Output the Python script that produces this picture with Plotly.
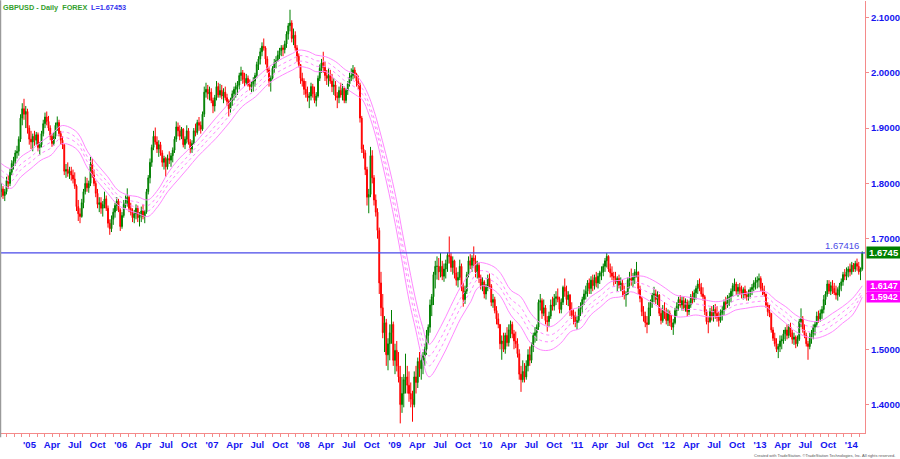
import pandas as pd
import plotly.graph_objects as go

# ---------------- data (weekly bars) ----------------
symbol_title = "GBPUSD - Daily\u00a0\u00a0FOREX"
first_week = "2004-09-10"
first_open = 1.785

highs = [
    1.800,1.795,1.790,1.812,1.815,1.826,1.842,1.848,1.860,1.868,
    1.885,1.925,1.945,1.953,1.940,1.935,1.905,1.895,1.890,1.895,
    1.893,1.892,1.875,1.895,1.915,1.928,1.930,1.922,1.905,1.890,
    1.892,1.910,1.921,1.915,1.895,1.885,1.870,1.835,1.838,1.830,
    1.830,1.825,1.820,1.798,1.770,1.755,1.772,1.790,1.812,1.810,
    1.805,1.848,1.845,1.825,1.805,1.790,1.775,1.775,1.768,1.785,
    1.778,1.760,1.735,1.742,1.755,1.765,1.775,1.772,1.755,1.748,
    1.770,1.778,1.791,1.778,1.765,1.755,1.752,1.762,1.760,1.748,
    1.758,1.762,1.752,1.790,1.815,1.845,1.870,1.895,1.901,1.885,
    1.878,1.875,1.860,1.850,1.848,1.852,1.858,1.855,1.865,1.885,
    1.912,1.910,1.905,1.902,1.900,1.885,1.905,1.900,1.880,1.878,
    1.900,1.908,1.915,1.920,1.912,1.930,1.975,1.982,1.978,1.975,
    1.972,1.955,1.960,1.985,1.982,1.980,1.978,1.972,1.975,1.962,
    1.952,1.955,1.968,1.975,1.982,1.985,2.000,2.011,2.005,2.000,
    1.998,1.995,1.988,1.985,1.992,2.000,2.020,2.030,2.045,2.055,
    2.062,2.048,2.030,2.010,1.995,2.012,2.025,2.030,2.040,2.045,
    2.050,2.050,2.058,2.075,2.090,2.114,2.095,2.080,2.075,2.050,
    2.035,2.015,2.000,1.990,1.985,1.975,1.965,1.982,1.980,1.975,
    1.965,1.995,2.015,2.025,2.038,2.020,2.005,2.008,2.005,1.998,
    1.990,1.985,1.965,1.975,1.982,1.980,1.975,1.972,1.985,2.000,
    2.008,2.014,2.010,2.000,1.995,1.982,1.922,1.870,1.860,1.830,
    1.790,1.866,1.860,1.815,1.780,1.755,1.720,1.640,1.600,1.560,
    1.555,1.520,1.545,1.571,1.550,1.510,1.515,1.495,1.470,1.450,
    1.455,1.492,1.470,1.460,1.440,1.425,1.460,1.470,1.485,1.495,
    1.490,1.495,1.510,1.535,1.545,1.590,1.600,1.640,1.660,1.668,
    1.665,1.674,1.660,1.655,1.662,1.675,1.704,1.675,1.668,1.662,
    1.648,1.640,1.662,1.655,1.620,1.615,1.640,1.668,1.672,1.670,
    1.686,1.670,1.660,1.656,1.635,1.630,1.625,1.618,1.635,1.637,
    1.618,1.600,1.595,1.578,1.565,1.545,1.525,1.530,1.530,1.540,
    1.545,1.552,1.550,1.535,1.532,1.520,1.500,1.470,1.480,1.475,
    1.480,1.500,1.505,1.512,1.530,1.540,1.545,1.590,1.600,1.592,
    1.590,1.580,1.560,1.568,1.590,1.595,1.600,1.605,1.610,1.595,
    1.592,1.615,1.628,1.615,1.605,1.600,1.585,1.572,1.568,1.560,
    1.578,1.585,1.595,1.608,1.615,1.625,1.628,1.632,1.635,1.635,
    1.640,1.638,1.642,1.650,1.655,1.665,1.674,1.670,1.655,1.650,
    1.640,1.640,1.632,1.635,1.630,1.625,1.615,1.605,1.630,1.640,
    1.646,1.638,1.645,1.658,1.640,1.615,1.595,1.578,1.568,1.560,
    1.585,1.590,1.602,1.613,1.608,1.605,1.600,1.575,1.580,1.585,
    1.575,1.572,1.570,1.562,1.555,1.575,1.585,1.595,1.598,1.595,
    1.595,1.592,1.590,1.588,1.600,1.605,1.608,1.615,1.625,1.628,
    1.620,1.612,1.598,1.572,1.558,1.575,1.578,1.580,1.582,1.578,
    1.568,1.572,1.578,1.590,1.595,1.598,1.602,1.610,1.620,1.628,
    1.622,1.618,1.620,1.615,1.612,1.615,1.605,1.608,1.612,1.618,
    1.625,1.630,1.632,1.637,1.632,1.620,1.615,1.600,1.585,1.580,
    1.565,1.540,1.530,1.520,1.510,1.525,1.525,1.535,1.540,1.545,
    1.545,1.548,1.535,1.530,1.525,1.525,1.555,1.574,1.560,1.545,
    1.530,1.515,1.530,1.535,1.545,1.550,1.568,1.570,1.572,1.578,
    1.598,1.605,1.625,1.625,1.622,1.625,1.620,1.615,1.612,1.620,
    1.628,1.640,1.645,1.648,1.650,1.655,1.658,1.656,1.660,1.664,
    1.658,1.648,1.677,
]

lows = [
    1.775,1.772,1.768,1.780,1.790,1.795,1.815,1.825,1.832,1.845,
    1.850,1.875,1.905,1.915,1.900,1.890,1.870,1.862,1.858,1.868,
    1.870,1.858,1.851,1.865,1.885,1.900,1.905,1.895,1.878,1.866,
    1.868,1.880,1.895,1.885,1.870,1.862,1.815,1.810,1.812,1.808,
    1.805,1.800,1.790,1.750,1.732,1.728,1.738,1.755,1.780,1.785,
    1.783,1.795,1.810,1.795,1.775,1.755,1.748,1.745,1.740,1.755,
    1.750,1.720,1.707,1.712,1.725,1.738,1.750,1.748,1.714,1.718,
    1.738,1.755,1.758,1.748,1.742,1.730,1.728,1.735,1.730,1.722,
    1.730,1.735,1.728,1.745,1.780,1.800,1.830,1.860,1.870,1.855,
    1.848,1.850,1.830,1.825,1.812,1.825,1.835,1.830,1.838,1.855,
    1.875,1.885,1.878,1.880,1.865,1.862,1.872,1.870,1.855,1.855,
    1.870,1.885,1.888,1.895,1.890,1.895,1.920,1.955,1.952,1.950,
    1.945,1.927,1.930,1.950,1.955,1.955,1.952,1.945,1.950,1.940,
    1.921,1.928,1.940,1.950,1.955,1.960,1.970,1.985,1.980,1.975,
    1.978,1.975,1.968,1.965,1.966,1.975,1.990,2.005,2.015,2.030,
    2.040,2.015,2.000,1.975,1.966,1.988,2.000,2.008,2.020,2.025,
    2.030,2.030,2.035,2.045,2.060,2.075,2.055,2.050,2.040,2.020,
    2.010,1.980,1.975,1.960,1.955,1.948,1.936,1.950,1.955,1.945,
    1.939,1.955,1.985,2.000,2.000,1.985,1.978,1.975,1.980,1.965,
    1.960,1.950,1.936,1.945,1.955,1.950,1.945,1.945,1.960,1.975,
    1.985,1.988,1.990,1.975,1.970,1.910,1.855,1.845,1.815,1.760,
    1.746,1.775,1.800,1.760,1.740,1.700,1.600,1.560,1.520,1.495,
    1.470,1.462,1.480,1.510,1.470,1.455,1.460,1.440,1.366,1.385,
    1.395,1.420,1.420,1.405,1.395,1.369,1.395,1.420,1.430,1.450,
    1.445,1.455,1.470,1.490,1.510,1.530,1.560,1.580,1.610,1.626,
    1.625,1.630,1.625,1.622,1.628,1.640,1.655,1.640,1.635,1.628,
    1.615,1.612,1.625,1.605,1.577,1.582,1.600,1.630,1.645,1.640,
    1.650,1.630,1.628,1.620,1.608,1.605,1.592,1.590,1.605,1.610,
    1.578,1.575,1.565,1.545,1.538,1.500,1.481,1.495,1.492,1.505,
    1.505,1.520,1.520,1.500,1.502,1.485,1.445,1.423,1.440,1.440,
    1.445,1.460,1.470,1.475,1.495,1.512,1.515,1.535,1.570,1.555,
    1.560,1.545,1.532,1.540,1.555,1.570,1.570,1.580,1.585,1.565,
    1.565,1.580,1.595,1.580,1.578,1.560,1.555,1.545,1.540,1.535,
    1.548,1.560,1.565,1.580,1.590,1.595,1.600,1.600,1.605,1.608,
    1.612,1.610,1.618,1.625,1.632,1.640,1.648,1.640,1.630,1.625,
    1.615,1.618,1.605,1.610,1.605,1.595,1.590,1.577,1.598,1.610,
    1.615,1.612,1.618,1.630,1.600,1.585,1.560,1.550,1.540,1.529,
    1.545,1.560,1.575,1.585,1.582,1.580,1.560,1.545,1.548,1.555,
    1.545,1.542,1.542,1.535,1.526,1.545,1.560,1.570,1.575,1.570,
    1.570,1.568,1.560,1.562,1.575,1.582,1.585,1.590,1.600,1.605,
    1.595,1.588,1.562,1.545,1.529,1.548,1.552,1.550,1.555,1.550,
    1.541,1.548,1.552,1.562,1.572,1.575,1.578,1.585,1.595,1.605,
    1.598,1.595,1.598,1.592,1.590,1.592,1.588,1.588,1.592,1.598,
    1.605,1.608,1.610,1.612,1.605,1.598,1.595,1.575,1.560,1.558,
    1.530,1.515,1.505,1.495,1.484,1.495,1.500,1.510,1.515,1.518,
    1.520,1.522,1.510,1.508,1.502,1.505,1.515,1.540,1.530,1.520,
    1.505,1.481,1.500,1.510,1.518,1.525,1.540,1.548,1.550,1.555,
    1.565,1.580,1.595,1.600,1.598,1.600,1.598,1.590,1.588,1.595,
    1.605,1.615,1.625,1.625,1.630,1.632,1.635,1.640,1.640,1.642,
    1.635,1.625,1.642,
]

closes = [
    1.790,1.778,1.785,1.805,1.800,1.820,1.836,1.840,1.855,1.858,
    1.880,1.918,1.935,1.925,1.930,1.900,1.880,1.875,1.885,1.878,
    1.888,1.865,1.870,1.890,1.908,1.920,1.912,1.900,1.885,1.872,
    1.885,1.905,1.910,1.890,1.878,1.870,1.822,1.825,1.818,1.822,
    1.815,1.808,1.795,1.758,1.745,1.740,1.765,1.785,1.800,1.792,
    1.800,1.835,1.815,1.800,1.782,1.762,1.765,1.755,1.762,1.772,
    1.755,1.728,1.718,1.735,1.748,1.760,1.768,1.752,1.722,1.742,
    1.762,1.765,1.775,1.755,1.748,1.738,1.745,1.755,1.738,1.742,
    1.750,1.740,1.748,1.785,1.810,1.838,1.865,1.885,1.875,1.862,
    1.870,1.855,1.838,1.845,1.830,1.845,1.842,1.850,1.860,1.880,
    1.902,1.895,1.885,1.898,1.870,1.880,1.895,1.875,1.862,1.872,
    1.895,1.892,1.910,1.905,1.898,1.925,1.965,1.970,1.962,1.965,
    1.950,1.940,1.955,1.975,1.960,1.968,1.958,1.965,1.955,1.948,
    1.935,1.950,1.962,1.970,1.975,1.978,1.995,2.000,1.988,1.982,
    1.990,1.978,1.975,1.980,1.985,1.995,2.015,2.025,2.038,2.048,
    2.045,2.025,2.005,1.985,1.990,2.008,2.018,2.022,2.032,2.040,
    2.045,2.042,2.052,2.070,2.085,2.090,2.062,2.068,2.045,2.030,
    2.015,1.990,1.985,1.970,1.962,1.955,1.958,1.975,1.962,1.950,
    1.958,1.990,2.008,2.018,2.010,1.995,1.990,1.995,1.985,1.975,
    1.978,1.958,1.955,1.968,1.960,1.972,1.950,1.968,1.980,1.992,
    1.995,2.005,1.998,1.985,1.978,1.918,1.862,1.855,1.825,1.775,
    1.780,1.850,1.810,1.770,1.748,1.715,1.620,1.575,1.530,1.548,
    1.490,1.510,1.530,1.545,1.480,1.498,1.470,1.450,1.400,1.420,
    1.445,1.450,1.435,1.420,1.410,1.400,1.450,1.440,1.478,1.465,
    1.480,1.488,1.500,1.525,1.540,1.580,1.595,1.635,1.650,1.650,
    1.640,1.650,1.632,1.645,1.655,1.670,1.668,1.648,1.660,1.638,
    1.625,1.630,1.650,1.612,1.590,1.605,1.635,1.660,1.652,1.665,
    1.660,1.640,1.652,1.630,1.615,1.622,1.600,1.612,1.628,1.615,
    1.585,1.590,1.570,1.555,1.545,1.510,1.515,1.500,1.525,1.512,
    1.535,1.545,1.528,1.515,1.510,1.492,1.455,1.445,1.460,1.450,
    1.470,1.490,1.480,1.505,1.525,1.530,1.540,1.585,1.588,1.565,
    1.575,1.552,1.550,1.560,1.580,1.578,1.592,1.595,1.590,1.572,
    1.585,1.612,1.605,1.590,1.598,1.570,1.562,1.560,1.548,1.552,
    1.572,1.578,1.590,1.600,1.605,1.620,1.610,1.625,1.615,1.630,
    1.620,1.632,1.638,1.640,1.650,1.660,1.668,1.645,1.638,1.632,
    1.630,1.622,1.628,1.615,1.620,1.605,1.598,1.600,1.625,1.628,
    1.625,1.630,1.640,1.640,1.610,1.592,1.568,1.560,1.548,1.545,
    1.575,1.585,1.598,1.600,1.590,1.598,1.565,1.552,1.570,1.565,
    1.552,1.565,1.548,1.540,1.548,1.570,1.578,1.590,1.580,1.588,
    1.575,1.585,1.568,1.580,1.595,1.590,1.602,1.610,1.618,1.612,
    1.600,1.595,1.568,1.550,1.550,1.568,1.560,1.572,1.565,1.558,
    1.552,1.565,1.570,1.585,1.580,1.592,1.595,1.605,1.615,1.618,
    1.605,1.612,1.605,1.600,1.608,1.598,1.595,1.602,1.608,1.612,
    1.620,1.622,1.625,1.628,1.610,1.605,1.600,1.580,1.568,1.565,
    1.535,1.520,1.510,1.500,1.505,1.515,1.518,1.528,1.535,1.525,
    1.540,1.530,1.518,1.522,1.510,1.518,1.550,1.555,1.535,1.525,
    1.510,1.505,1.522,1.528,1.540,1.545,1.560,1.555,1.565,1.572,
    1.590,1.600,1.618,1.605,1.615,1.610,1.602,1.598,1.608,1.615,
    1.622,1.635,1.632,1.640,1.645,1.640,1.652,1.645,1.655,1.650,
    1.640,1.645,1.67453,
]

hline_level = 1.67416

# moving-average channel lines
band_dates = [
    "2004-09-10","2004-10-19","2004-11-28","2005-01-07","2005-02-16","2005-03-28","2005-05-07","2005-06-02",
    "2005-07-13","2005-08-22","2005-10-01","2005-11-10","2005-12-20","2006-01-28","2006-03-09","2006-04-19",
    "2006-05-29","2006-07-08","2006-08-17","2006-09-26","2006-11-04","2006-12-14","2007-01-16","2007-03-10",
    "2007-05-02","2007-06-25","2007-08-17","2007-10-10","2007-11-19","2007-12-15","2008-01-24","2008-02-20",
    "2008-03-31","2008-05-10","2008-06-19","2008-07-29","2008-08-25","2008-09-20","2008-10-17","2008-11-12",
    "2008-12-09","2009-01-05","2009-02-01","2009-02-27","2009-03-26","2009-04-22","2009-05-18","2009-07-04",
    "2009-08-12","2009-09-22","2009-11-01","2009-11-27","2009-12-24","2010-02-02","2010-03-01","2010-04-10",
    "2010-05-20","2010-06-29","2010-08-08","2010-09-17","2010-10-27","2010-12-06","2011-01-15","2011-02-24",
    "2011-04-05","2011-05-15","2011-06-24","2011-08-03","2011-09-22","2011-11-11","2011-12-21","2012-01-30",
    "2012-03-10","2012-04-19","2012-05-29","2012-07-08","2012-08-17","2012-09-26","2012-11-05","2012-12-15",
    "2013-01-24","2013-03-05","2013-04-14","2013-05-24","2013-07-03","2013-08-12","2013-09-08","2013-10-18",
    "2013-11-27","2014-01-06","2014-02-14",
]
band_upper = [
    1.836,1.827,1.848,1.860,1.875,1.888,1.904,1.903,1.891,1.857,1.833,1.812,1.788,1.779,1.776,1.770,
    1.788,1.818,1.842,1.860,1.878,1.900,1.918,1.945,1.972,1.990,2.011,2.026,2.035,2.041,2.038,2.032,
    2.029,2.020,2.005,1.996,1.981,1.957,1.921,1.878,1.830,1.776,1.710,1.649,1.589,1.541,1.509,1.541,
    1.577,1.613,1.640,1.656,1.656,1.649,1.637,1.607,1.595,1.565,1.547,1.541,1.553,1.571,1.577,1.595,
    1.607,1.622,1.625,1.631,1.632,1.622,1.610,1.598,1.595,1.592,1.589,1.586,1.589,1.598,1.601,1.604,
    1.604,1.589,1.577,1.562,1.553,1.550,1.553,1.565,1.577,1.592,1.6147,
]
band_inner_hi = [
    1.824,1.814,1.835,1.848,1.864,1.875,1.892,1.892,1.880,1.847,1.823,1.802,1.779,1.770,1.766,1.760,
    1.778,1.806,1.829,1.849,1.868,1.888,1.905,1.932,1.960,1.978,2.001,2.016,2.025,2.031,2.028,2.022,
    2.020,2.008,1.993,1.983,1.971,1.945,1.908,1.863,1.813,1.757,1.691,1.628,1.570,1.520,1.488,1.520,
    1.556,1.593,1.621,1.640,1.642,1.634,1.622,1.591,1.576,1.546,1.530,1.526,1.538,1.557,1.563,1.583,
    1.597,1.612,1.615,1.622,1.618,1.607,1.595,1.584,1.582,1.582,1.579,1.577,1.580,1.589,1.592,1.595,
    1.595,1.580,1.567,1.552,1.543,1.540,1.543,1.553,1.567,1.582,1.607,
]
band_inner_lo = [
    1.813,1.804,1.825,1.839,1.854,1.864,1.883,1.882,1.871,1.838,1.814,1.793,1.770,1.761,1.757,1.750,
    1.768,1.797,1.819,1.839,1.858,1.878,1.894,1.922,1.951,1.969,1.991,2.006,2.015,2.021,2.018,2.012,
    2.011,1.999,1.984,1.973,1.961,1.936,1.898,1.851,1.799,1.741,1.674,1.610,1.554,1.502,1.470,1.502,
    1.538,1.576,1.605,1.626,1.629,1.622,1.610,1.578,1.560,1.530,1.516,1.514,1.526,1.546,1.552,1.574,
    1.587,1.602,1.605,1.613,1.607,1.595,1.583,1.573,1.572,1.572,1.569,1.568,1.571,1.580,1.583,1.586,
    1.586,1.571,1.557,1.542,1.533,1.530,1.533,1.544,1.557,1.572,1.601,
]
band_lower = [
    1.801,1.791,1.812,1.827,1.842,1.851,1.871,1.871,1.860,1.827,1.803,1.782,1.761,1.752,1.746,1.740,
    1.758,1.785,1.806,1.827,1.848,1.866,1.881,1.909,1.939,1.957,1.981,1.996,2.005,2.011,2.008,2.002,
    2.002,1.987,1.972,1.960,1.951,1.924,1.885,1.836,1.782,1.722,1.655,1.589,1.535,1.481,1.450,1.481,
    1.517,1.556,1.586,1.610,1.615,1.607,1.595,1.562,1.541,1.511,1.499,1.499,1.511,1.532,1.538,1.562,
    1.577,1.592,1.595,1.604,1.594,1.580,1.568,1.559,1.559,1.562,1.559,1.559,1.562,1.571,1.574,1.577,
    1.577,1.562,1.547,1.532,1.523,1.520,1.523,1.532,1.547,1.562,1.5942,
]

tick_labels = [
    "'05","Apr","Jul","Oct","'06","Apr","Jul","Oct","'07","Apr","Jul","Oct",
    "'08","Apr","Jul","Oct","'09","Apr","Jul","Oct","'10","Apr","Jul","Oct",
    "'11","Apr","Jul","Oct","'12","Apr","Jul","Oct","'13","Apr","Jul","Oct","'14",
]
y_ticks = [1.4, 1.5, 1.6, 1.7, 1.8, 1.9, 2.0, 2.1]
# the 1.6000 label is hidden behind the magenta value boxes in the original
y_tick_labels = ["1.4000", "1.5000", "", "1.7000", "1.8000", "1.9000", "2.0000", "2.1000"]

# ---------------- build ----------------
dates = pd.date_range(first_week, periods=len(closes), freq="7D")
opens = [first_open] + closes[:-1]
tick_dates = pd.date_range("2005-01-01", periods=len(tick_labels), freq="QS")

FONT = "Arial, 'Liberation Sans', Helvetica, sans-serif"
PINK = "#f48a8a"
BLUE = "#1414f0"
MAG = "#ff88ff"

fig = go.Figure()
for ys, dash in ((band_upper, "solid"), (band_inner_hi, "dot"),
                 (band_inner_lo, "dot"), (band_lower, "solid")):
    fig.add_trace(go.Scatter(
        x=band_dates, y=ys, mode="lines", hoverinfo="skip", showlegend=False,
        line=dict(color=MAG, width=1, dash=dash, shape="spline", smoothing=1.0)))

fig.add_trace(go.Candlestick(
    x=dates, open=opens, high=highs, low=lows, close=closes,
    increasing=dict(line=dict(color="#008000", width=1), fillcolor="#008000"),
    decreasing=dict(line=dict(color="#ff0000", width=1), fillcolor="#ff0000"),
    whiskerwidth=0, hoverinfo="skip", showlegend=False))

fig.add_hline(y=hline_level, line=dict(color="#4848e8", width=1.2))

annotations = [
    dict(text="<b>" + symbol_title + "</b>", x=0.0005, y=1.0, xref="paper", yref="paper",
         xanchor="left", yanchor="top", showarrow=False,
         font=dict(family=FONT, size=7.3, color="#33a02c")),
    dict(text="<b>L=%.5f</b>" % closes[-1], x=0.102, y=1.0, xref="paper", yref="paper",
         xanchor="left", yanchor="top", showarrow=False,
         font=dict(family=FONT, size=7.3, color="#3333ee")),
    dict(text="%.5f" % hline_level, x=0.973, y=hline_level, xref="paper", yref="y",
         xanchor="center", yanchor="bottom", showarrow=False, yshift=0,
         font=dict(family=FONT, size=9.5, color="#4b4be6")),
    dict(text="<b>%.4f</b>" % closes[-1], x=1.0, y=closes[-1], xref="paper", yref="y",
         xanchor="left", yanchor="middle", showarrow=False, xshift=1,
         bgcolor="#008000", borderpad=0, width=34, height=11,
         font=dict(family=FONT, size=9.5, color="white")),
    dict(text="<b>%.4f</b>" % band_upper[-1], x=1.0, y=band_upper[-1], xref="paper", yref="y",
         xanchor="left", yanchor="middle", showarrow=False, xshift=1,
         bgcolor="#ff00ff", borderpad=0, width=34, height=10,
         font=dict(family=FONT, size=9, color="white")),
    dict(text="<b>%.4f</b>" % band_lower[-1], x=1.0, y=band_lower[-1], xref="paper", yref="y",
         xanchor="left", yanchor="middle", showarrow=False, xshift=1,
         bgcolor="#ff00ff", borderpad=0, width=34, height=10,
         font=dict(family=FONT, size=9, color="white")),
    dict(text="Created with TradeStation. \u00a9TradeStation Technologies, Inc. All rights reserved.",
         x=1.037, y=-0.051, xref="paper", yref="paper", xanchor="right", yanchor="middle",
         showarrow=False, font=dict(family=FONT, size=4, color="#555555")),
]

fig.update_layout(
    width=900, height=459,
    margin=dict(l=1, r=35, t=1, b=26),
    paper_bgcolor="white", plot_bgcolor="white",
    showlegend=False, dragmode=False, hovermode=False,
    annotations=annotations,
    shapes=[
        dict(type="line", xref="paper", yref="paper", x0=-0.002, x1=1.045, y0=1.002, y1=1.002,
             line=dict(color="#9a9a9a", width=2)),
        dict(type="line", xref="paper", yref="paper", x0=-0.0006, x1=-0.0006, y0=-0.01, y1=1.002,
             line=dict(color="#9a9a9a", width=1.5)),
    ],
    xaxis=dict(
        type="date", range=["2004-09-09", "2014-02-25"],
        rangeslider=dict(visible=False),
        showgrid=False, zeroline=False,
        showline=True, linecolor=PINK, linewidth=1,
        tickmode="array", tickvals=list(tick_dates), ticktext=["<b>%s</b>" % t for t in tick_labels],
        ticks="outside", ticklen=3, tickcolor=PINK, tickwidth=1,
        tickfont=dict(family=FONT, size=9.5, color=BLUE),
        minor=dict(dtick="M1", tick0="2004-10-01", ticks="outside", ticklen=3,
                   tickcolor=PINK, tickwidth=1, showgrid=False),
        fixedrange=True,
    ),
    yaxis=dict(
        side="right", range=[1.3486, 2.1298],
        showgrid=False, zeroline=False,
        showline=True, linecolor=PINK, linewidth=1,
        tickmode="array", tickvals=y_ticks,
        ticktext=[("<b>%s</b>" % t) if t else "" for t in y_tick_labels],
        ticks="outside", ticklen=3, tickcolor=PINK, tickwidth=1,
        tickfont=dict(family=FONT, size=9.5, color=BLUE),
        fixedrange=True,
    ),
)

fig.write_html(
    "out.html",
    config={"displayModeBar": False},
    post_script="document.body.style.margin='0';document.body.style.padding='0';",
)
